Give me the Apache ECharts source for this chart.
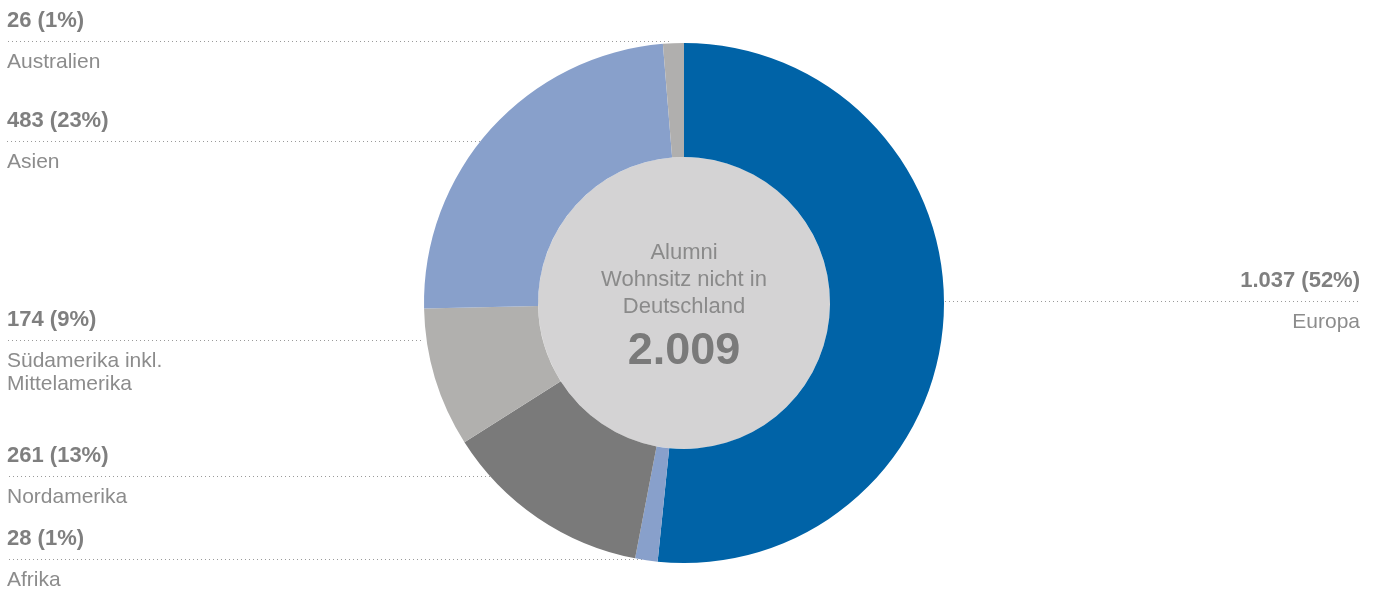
<!DOCTYPE html>
<html lang="de">
<head>
    <meta charset="UTF-8">
    <title>Alumni Wohnsitz nicht in Deutschland</title>
    <style>
        html, body { margin: 0; padding: 0; background: #fff; }
        #container { width: 1376px; height: 590px; }
    </style>
</head>
<body>
<div id="container"></div>
<script src="https://cdn.jsdelivr.net/npm/echarts@6/dist/echarts.min.js"></script>
<script>
    // Daten (im Uhrzeigersinn ab 12 Uhr)
    var regions = ['Europa', 'Afrika', 'Nordamerika', 'Südamerika inkl.\nMittelamerika', 'Asien', 'Australien'];
    var counts = [1037, 28, 261, 174, 483, 26];
    var shares = [52, 1, 13, 9, 23, 1];   // Prozent wie gedruckt
    var colors = ['#0063a7', '#88a0cb', '#7a7a7a', '#b1b0ae', '#88a0cb', '#b0afae'];
    var centerTitle = 'Alumni\nWohnsitz nicht in\nDeutschland';

    // Lage der Beschriftungslinien: y, Ende an der Torte, Seite
    var guides = [
        { y: 301.5, x: 945, right: true },
        { y: 559.5, x: 642 },
        { y: 476.5, x: 490 },
        { y: 340.5, x: 421 },
        { y: 141.5, x: 480 },
        { y: 41.5, x: 669 }
    ];

    function fmt(n) {
        return String(n).replace(/\B(?=(\d{3})+(?!\d))/g, '.');
    }

    var total = counts.reduce(function (a, b) { return a + b; }, 0);

    var dom = document.getElementById('container');
    var myChart = echarts.init(dom);

    var option = {
        animation: false,
        series: [
            {
                type: 'pie',
                silent: true,
                center: [684, 303],
                radius: [0, 146],
                data: [{ value: total, name: 'gesamt', itemStyle: { color: '#d4d3d4' } }],
                labelLine: { show: false },
                label: {
                    show: true,
                    position: 'center',
                    padding: [17, 0, 0, 0],
                    formatter: function () {
                        return centerTitle.split('\n').map(function (t) { return '{t|' + t + '}'; }).join('\n')
                            + '\n{n|' + fmt(total) + '}';
                    },
                    rich: {
                        t: { fontFamily: 'Liberation Sans, Arial', fontSize: 22, color: '#8a8a8a', lineHeight: 27, align: 'center' },
                        n: { fontFamily: 'Liberation Sans, Arial', fontSize: 45, fontWeight: 'bold', color: '#7a7a7a', lineHeight: 63, align: 'center' }
                    }
                }
            },
            {
                type: 'pie',
                center: [684, 303],
                radius: [146, 260],
                startAngle: 90,
                clockwise: true,
                avoidLabelOverlap: false,
                data: regions.map(function (r, i) {
                    return { name: r, value: counts[i], itemStyle: { color: colors[i] } };
                }),
                label: {
                    show: true,
                    position: 'outside',
                    formatter: function (p) {
                        var i = p.dataIndex;
                        var lines = regions[i].split('\n').map(function (t) { return '{b|' + t + '}'; }).join('\n');
                        return '{a|' + fmt(counts[i]) + ' (' + shares[i] + '%)}\n{s|}\n' + lines;
                    },
                    rich: {
                        a: { fontFamily: 'Liberation Sans, Arial', fontSize: 22, fontWeight: 'bold', color: '#7f7f7f', lineHeight: 24 },
                        s: { lineHeight: 18, fontSize: 1 },
                        b: { fontFamily: 'Liberation Sans, Arial', fontSize: 21, color: '#8c8c8c', lineHeight: 23 }
                    }
                },
                labelLine: {
                    show: true,
                    lineStyle: { color: '#9a9a9a', width: 1, type: [1, 3] }
                },
                labelLayout: function (params) {
                    var g = guides[params.dataIndex];
                    var x = g.right ? 1360 : 7;
                    return {
                        x: x,
                        y: g.y - 33,
                        align: g.right ? 'right' : 'left',
                        verticalAlign: 'top',
                        labelLinePoints: [[g.x, g.y], [(g.x + x) / 2, g.y], [x, g.y]]
                    };
                }
            }
        ]
    };

    myChart.setOption(option);
</script>
</body>
</html>
